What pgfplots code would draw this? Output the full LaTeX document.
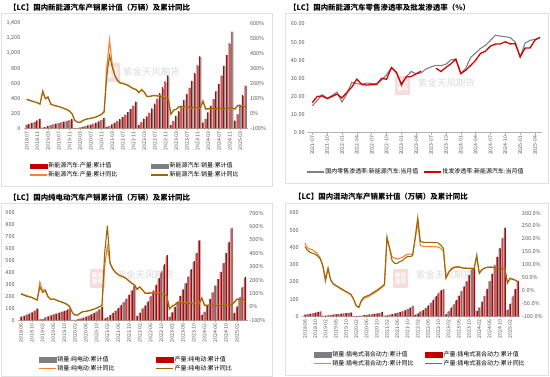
\documentclass[border=0pt]{standalone}
\usepackage{fontspec}
\setmainfont{Noto Sans CJK SC}
\usepackage{pgfplots}
\usepackage{pgfplotstable}
\pgfplotsset{compat=1.18}

\definecolor{cred}{RGB}{192,0,0}
\definecolor{cgray}{RGB}{127,127,127}
\definecolor{corange}{RGB}{245,130,50}
\definecolor{colive}{RGB}{150,105,5}
\definecolor{tlab}{RGB}{89,89,89}
\definecolor{pred}{RGB}{215,0,0}
\definecolor{pgray}{RGB}{128,128,128}
\definecolor{wm}{RGB}{218,218,218}
\definecolor{wmpink}{RGB}{242,205,205}

% Panel 1: NEV cumulative (i, prod, sales, prod yoy, sales yoy), 2018-07 .. 2025-05
\pgfplotstableread{
i p s po so
0 50 49 90 95
1 60 60 85 88
2 73 72 80 82
3 87 86 75 76
4 106 103 70 70
5 127 125.6 60 62
6 9.1 9.6 140 150
7 14.9 15.0 95 100
8 30.4 29.9 105 110
9 40.8 39.7 65 62
10 52.1 51.6 52 55
11 61.4 61.7 48 50
12 69.3 69.6 44 45
13 79.9 79.4 40 40
14 88.9 87.2 33 32
15 98.3 94.7 26 25
16 109.1 104.3 16 14
17 124.2 120.6 -2 -4
18 4.0 4.4 -45 -48
19 5.0 5.7 -60 -58
20 10.5 11.4 -62 -60
21 18.1 18.9 -50 -48
22 27.4 28.8 -42 -40
23 39.7 39.3 -37 -36
24 49.8 49.2 -34 -33
25 62.2 60.0 -30 -29
26 75.9 73.2 -25 -24
27 91.5 89.2 -17 -16
28 110.5 109.2 -8 -6
29 136.6 136.7 8 11
30 20.0 17.9 300 250
31 32.4 29.9 490 385
32 53.3 51.5 330 310
33 75.1 72.1 255 250
34 96.9 93.3 222 218
35 121.5 120.6 205 201
36 150.4 147.8 200 198
37 181.2 179.9 195 192
38 216.6 215.7 188 185
39 256.2 254.2 176 173
40 302.3 299.0 166 163
41 354.5 352.1 160 157
42 45.2 43.1 135 140
43 82.0 76.4 160 155
44 129.3 125.7 143 140
45 160.5 155.6 114 112
46 207.1 200.3 114 111
47 266.1 260.0 119 116
48 327.9 319.4 120 117
49 397.0 386.0 119 115
50 472.0 456.7 118 112
51 548.5 528.0 114 108
52 625.3 606.7 107 103
53 705.8 688.7 97 93
54 42.5 40.8 -6 -6
55 97.7 93.3 19 22
56 165.0 158.6 28 26
57 229.0 222.2 43 43
58 300.5 294.0 45 47
59 378.8 374.7 42 44
60 459.1 452.6 40 42
61 543.4 537.1 37 39
62 631.3 627.8 34 38
63 735.2 728.0 34 38
64 842.2 830.4 35 37
65 958.7 949.5 36 38
66 78.7 72.9 85 79
67 125.2 120.7 28 29
68 211.5 209.0 28 32
69 298.5 294.0 30 32
70 392.9 389.5 31 32
71 492.9 494.4 30 32
72 591.4 593.4 29 31
73 700.8 703.7 29 31
74 831.4 832.0 31 32
75 977.9 975.0 33 34
76 1134.5 1126.2 35 36
77 1288.8 1286.6 34 36
78 101.5 94.4 29 29
79 190.3 184.4 52 53
80 318.2 307.5 50 47
81 442.9 430.0 48 46
82 569.9 560.8 45 44
}\Pa

% Panel 2: penetration (i, retail gray, wholesale red), 2021-07 .. 2025-05
\pgfplotstableread{
i g r
0 14.8 16.6
1 17.8 20.0
2 21.0 20.3
3 19.1 18.8
4 20.5 20.0
5 22.4 21.3
6 16.9 19.2
7 21.5 22.3
8 27.8 25.2
9 27.0 29.6
10 26.8 26.6
11 27.4 26.3
12 27.2 26.5
13 27.0 26.6
14 29.0 30.0
15 32.0 29.5
16 35.8 36.0
17 33.5 33.2
18 25.8 26.9
19 31.0 30.8
20 33.8 31.0
21 32.5 32.5
22 33.0 34.0
23 35.2 nan
24 36.3 nan
25 37.2 35.6
26 37.0 33.8
27 37.8 36.0
28 40.2 38.0
29 40.6 40.6
30 32.8 32.6
31 35.5 34.5
32 41.5 37.1
33 44.0 40.0
34 46.5 43.8
35 48.2 45.0
36 51.0 47.8
37 53.8 48.9
38 53.3 49.0
39 53.0 50.2
40 52.5 49.0
41 50.0 49.2
42 41.8 41.8
43 49.5 46.8
44 51.0 46.8
45 51.5 51.2
46 52.5 52.6
}\Pb

% Panel 3: BEV (i, sales, prod, sales yoy, prod yoy), 2018-06 .. 2025-05
\pgfplotstableread{
i s p so po
0 30 31 100 95
1 37 38 92 88
2 46 47 85 80
3 56 57 78 74
4 66 67 72 70
5 80 81 60 60
6 98.4 98.6 52 50
7 7.5 6.9 185 150
8 12.0 11.5 120 108
9 24.0 24.7 130 120
10 32.0 32.9 80 75
11 41.0 42.2 55 55
12 49.0 49.6 58 60
13 55.0 56.2 50 52
14 62.0 64.8 42 44
15 69.0 72.2 35 38
16 75.0 80.0 28 30
17 83.0 88.6 18 20
18 97.2 102.0 -1 5
19 3.4 3.3 -40 -42
20 4.3 4.1 -62 -60
21 8.8 8.0 -60 -62
22 14.2 13.8 -45 -45
23 21.5 21.2 -36 -34
24 30.8 31.1 -35 -33
25 38.7 39.4 -30 -28
26 48.2 49.8 -25 -23
27 59.7 61.4 -18 -17
28 73.7 75.3 -10 -8
29 90.6 91.7 0 2
30 111.5 110.5 12 8
31 15.0 16.6 300 400
32 24.9 26.7 450 605
33 42.5 44.2 320 330
34 60.1 62.1 280 285
35 78.1 80.2 255 258
36 100.7 101.6 240 240
37 124.1 126.3 232 230
38 150.2 152.0 225 222
39 180.0 181.6 212 210
40 212.3 214.4 195 193
41 249.0 251.5 180 175
42 291.6 294.2 162 166
43 34.5 36.1 135 130
44 61.6 64.4 150 148
45 98.2 100.8 128 126
46 121.8 124.2 104 101
47 155.0 158.3 104 101
48 199.1 203.1 106 103
49 242.8 248.0 106 103
50 292.8 299.5 105 102
51 344.8 354.0 104 100
52 398.6 410.7 100 98
53 458.1 472.0 96 94
54 536.5 546.7 82 86
55 29.1 30.5 -12 -15
56 65.6 67.3 6 5
57 111.9 113.3 18 14
58 155.3 157.4 36 32
59 203.6 205.4 38 33
60 256.6 258.4 34 30
61 308.0 312.0 33 28
62 365.1 369.2 30 27
63 425.2 428.3 28 25
64 490.7 496.4 26 22
65 561.7 566.6 23 20
66 668.5 670.4 25 23
67 43.1 47.0 70 65
68 71.1 73.8 15 10
69 124.0 125.4 13 11
70 177.5 179.3 13 14
71 233.4 234.2 14 14
72 290.8 290.6 13 12
73 345.0 346.2 12 11
74 405.7 406.1 12 10
75 478.5 478.9 13 12
76 563.0 563.1 15 13
77 652.0 657.2 16 16
78 771.9 775.0 18 16
79 57.9 62.0 38 32
80 113.0 117.6 57 58
81 190.2 195.8 55 55
82 274.0 277.8 54 55
83 356.0 365.0 52 55
}\Pc

% Panel 4: PHEV (i, sales, prod, sales yoy, prod yoy), 2018-06 .. 2025-05
\pgfplotstableread{
i s p so po
0 9.5 10 183 170
1 11.5 12 165 155
2 14.5 15 160 148
3 17.5 18 157 144
4 20.5 21 150 140
5 24.5 25 140 133
6 27.1 28.3 125 122
7 2.3 2.2 92 95
8 3.4 3.4 35 42
9 5.6 5.7 86 86
10 7.9 7.9 40 42
11 10.1 10.0 25 27
12 12.0 11.8 18 20
13 13.3 13.1 12 14
14 14.7 14.9 5 8
15 16.3 16.6 0 2
16 17.8 18.2 -5 -4
17 19.5 20.4 -10 -10
18 23.2 22.0 -15 -17
19 0.9 0.7 -35 -35
20 1.3 0.9 -60 -58
21 2.6 2.5 -66 -66
22 4.5 4.4 -42 -38
23 6.6 6.2 -30 -26
24 8.6 8.5 -27 -22
25 10.5 10.4 -22 -18
26 12.3 12.4 -15 -12
27 14.0 14.2 -10 -5
28 16.4 16.1 -3 0
29 18.8 18.6 3 8
30 25.1 26.0 12 15
31 2.9 3.4 20 24
32 5.0 5.7 200 208
33 9.0 9.1 165 163
34 12.0 13.0 130 115
35 15.2 16.7 125 105
36 19.9 19.9 122 105
37 23.7 24.1 125 112
38 29.7 29.2 128 115
39 35.7 35.0 135 125
40 41.8 41.8 140 131
41 50.0 50.8 141 131
42 60.3 60.1 140 135
43 8.6 9.1 200 205
44 15.2 17.6 262 282
45 27.6 28.5 175 190
46 33.8 36.4 170 187
47 45.3 48.9 170 186
48 60.9 62.9 170 186
49 76.5 79.8 170 186
50 93.1 97.3 170 186
51 111.8 117.9 169 185
52 129.6 137.7 168 184
53 148.5 153.2 163 175
54 151.8 158.4 152 163
55 11.7 12.0 50 47
56 27.7 30.4 68 70
57 46.7 51.7 85 80
58 66.7 71.6 90 88
59 90.5 95.0 92 90
60 118.1 120.3 92 91
61 144.6 147.1 89 88
62 171.9 174.2 87 86
63 202.5 203.0 86 86
64 237.3 238.6 86 85
65 268.7 275.4 86 85
66 280.4 287.7 85 85
67 29.8 32.0 130 137
68 49.6 52.0 68 66
69 84.0 85.0 80 80
70 117.0 119.0 87 86
71 157.0 160.0 90 89
72 203.0 204.0 91 90
73 247.0 248.0 90 90
74 300.0 296.0 88 88
75 345.0 345.0 86 86
76 398.0 395.0 85 84
77 452.0 455.0 84 84
78 514.1 515.0 84 83
79 36.0 39.0 28 30
80 70.0 74.0 48 46
81 113.0 118.0 45 43
82 157.0 160.0 40 40
83 203.0 206.0 35 34
}\Pd

\pgfplotsset{
  every axis/.append style={
    scale only axis, anchor=south west, enlargelimits=false,
    /pgf/number format/assume math mode=true,
    tick label style={font=\fontsize{5.5}{6}\selectfont, text=tlab},
  },
  lax/.style={
    axis x line*=bottom, axis y line*=left,
    x axis line style={draw=black!30, line width=0.5pt, -},
    y axis line style={draw=none},
    ytick style={draw=none},
    xtick style={draw=black!30, line width=0.4pt},
    tick align=outside, major tick length=2bp,
    xticklabel style={rotate=90, anchor=east, font=\fontsize{5.2}{6}\selectfont, text=tlab, inner sep=1pt},
    yticklabel style={inner sep=1.5pt},
    legend columns=2, legend cell align=left,
    legend style={draw=none, fill=none, anchor=north west, font=\fontsize{6}{7}\selectfont, inner sep=0pt, row sep=0.6bp, nodes={inner sep=1pt}},
  },
  rax/.style={
    axis x line=none, axis y line*=right,
    y axis line style={draw=none}, ytick style={draw=none},
    yticklabel style={inner sep=1.5pt},
  },
  barleg/.style={legend image code/.code={\fill[#1] (0bp,-2.2bp) rectangle (17bp,2.2bp);}},
  lineleg/.style={legend image code/.code={\draw[#1, line width=1.2pt] (0bp,0bp) -- (17bp,0bp);}},
}

\newcommand{\wmark}[4]{% x y of logo lower-left, text centre x, text centre y
  \fill[wmpink, opacity=0.7, rounded corners=1bp] (#1,#2) rectangle ++(15bp,19bp);
  \node[text=white, font=\fontsize{5.5}{6}\selectfont\bfseries, align=center, inner sep=0pt] at ([shift={(7.5bp,9.5bp)}]#1,#2) {紫天\\金风};
  \node[text=wm, font=\fontsize{9.5}{10}\selectfont] at (#3,#4) {紫金天风期货};
}

\begin{document}
\begin{tikzpicture}
\path[use as bounding box] (0,0) rectangle (550bp,377bp);
% panel frames
\draw[black!12, line width=0.5pt] (1bp,190.3bp) rectangle (272.7bp,363.5bp);
\draw[black!12, line width=0.5pt] (285bp,194bp) rectangle (548bp,363.5bp);
\draw[black!12, line width=0.5pt] (1bp,0.7bp) rectangle (272.7bp,173.5bp);
\draw[black!12, line width=0.5pt] (285bp,1.5bp) rectangle (548bp,173.5bp);
% watermarks
\wmark{105bp}{295bp}{151.5bp}{305bp}
\wmark{395bp}{282bp}{446.5bp}{294bp}
\wmark{90bp}{89bp}{145bp}{102bp}
\wmark{393bp}{89bp}{444.5bp}{102bp}
% titles
\node[anchor=west, inner sep=0pt, font=\fontsize{7.5}{8}\selectfont\bfseries] at (9bp,369bp) {【LC】国内新能源汽车产销累计值（万辆）及累计同比};
\node[anchor=west, inner sep=0pt, font=\fontsize{7.5}{8}\selectfont\bfseries] at (289bp,369bp) {【LC】国内新能源汽车零售渗透率及批发渗透率（\%）};
\node[anchor=west, inner sep=0pt, font=\fontsize{7.5}{8}\selectfont\bfseries] at (9bp,179bp) {【LC】国内纯电动汽车产销累计值（万辆）及累计同比};
\node[anchor=west, inner sep=0pt, font=\fontsize{7.5}{8}\selectfont\bfseries] at (294bp,180.5bp) {【LC】国内混动汽车产销累计值（万辆）及累计同比};

% ---------------- Panel 1 ----------------
\begin{axis}[lax, at={(24bp,248.7bp)}, width=224.4bp, height=105bp,
  xmin=-1, xmax=83, ymin=0, ymax=1400, ytick={0,200,...,1400},
  xtick={0,4,...,80},
  xticklabels={2018-07,2018-11,2019-03,2019-07,2019-11,2020-03,2020-07,2020-11,2021-03,2021-07,2021-11,2022-03,2022-07,2022-11,2023-03,2023-07,2023-11,2024-03,2024-07,2024-11,2025-03},
  legend style={at={(0.022,-0.316)}, /tikz/every even column/.append style={column sep=32bp}}]
\addplot[ybar, bar width=0.42, bar shift=-0.21, fill=cred, draw=none, forget plot] table[x=i,y=p]{\Pa};
\addplot[ybar, bar width=0.42, bar shift=0.21, fill=cgray, draw=none, forget plot] table[x=i,y=s]{\Pa};
\addlegendimage{barleg=cred}\addlegendentry{新能源汽车:产量:累计值}
\addlegendimage{barleg=cgray}\addlegendentry{新能源汽车:销量:累计值}
\addlegendimage{lineleg=corange}\addlegendentry{新能源汽车:产量:累计同比}
\addlegendimage{lineleg=colive}\addlegendentry{新能源汽车:销量:累计同比}
\end{axis}
\begin{axis}[rax, at={(24bp,248.7bp)}, width=224.4bp, height=105bp,
  xmin=-1, xmax=83, ymin=-100, ymax=600, ytick={-100,0,...,600},
  yticklabel={\pgfmathprintnumber{\tick}\%}]
\addplot[corange, line width=1.1pt] table[x=i,y=po]{\Pa};
\addplot[colive, line width=1.1pt] table[x=i,y=so]{\Pa};
\end{axis}

% ---------------- Panel 2 ----------------
\begin{axis}[lax, at={(308.3bp,244.3bp)}, width=233.4bp, height=108.7bp,
  xmin=-0.8, xmax=46.35, ymin=0, ymax=60, ytick={0,10,...,60},
  yticklabel={\pgfmathprintnumber[fixed,fixed zerofill,precision=2]{\tick}},
  xtick={0,3,...,45},
  xticklabels={2021-07,2021-10,2022-01,2022-04,2022-07,2022-10,2023-01,2023-04,2023-07,2023-10,2024-01,2024-04,2024-07,2024-10,2025-01,2025-04},
  legend style={at={(-0.01,-0.32)}, /tikz/every even column/.append style={column sep=4bp}}]
\addplot[pgray, line width=1.1pt, forget plot] table[x=i,y=g]{\Pb};
\addplot[pred, line width=1.3pt, unbounded coords=jump, forget plot] table[x=i,y=r]{\Pb};
\addlegendimage{lineleg=pgray}\addlegendentry{国内零售渗透率:新能源汽车:当月值}
\addlegendimage{lineleg=pred}\addlegendentry{批发渗透率:新能源汽车:当月值}
\end{axis}

% ---------------- Panel 3 ----------------
\begin{axis}[lax, at={(18.3bp,56.7bp)}, width=229.4bp, height=107.3bp,
  xmin=-1, xmax=84, ymin=0, ymax=900, ytick={0,100,...,900},
  xtick={0,4,...,80},
  xticklabels={2018-06,2018-10,2019-02,2019-06,2019-10,2020-02,2020-06,2020-10,2021-02,2021-06,2021-10,2022-02,2022-06,2022-10,2023-02,2023-06,2023-10,2024-02,2024-06,2024-10,2025-02},
  legend style={at={(0.086,-0.325)}, /tikz/every even column/.append style={column sep=40bp}}]
\addplot[ybar, bar width=0.42, bar shift=-0.21, fill=cgray, draw=none, forget plot] table[x=i,y=s]{\Pc};
\addplot[ybar, bar width=0.42, bar shift=0.21, fill=cred, draw=none, forget plot] table[x=i,y=p]{\Pc};
\addlegendimage{barleg=cgray}\addlegendentry{销量:纯电动:累计值}
\addlegendimage{barleg=cred}\addlegendentry{产量:纯电动:累计值}
\addlegendimage{lineleg=corange}\addlegendentry{销量:纯电动:累计同比}
\addlegendimage{lineleg=colive}\addlegendentry{产量:纯电动:累计同比}
\end{axis}
\begin{axis}[rax, at={(18.3bp,56.7bp)}, width=229.4bp, height=107.3bp,
  xmin=-1, xmax=84, ymin=-100, ymax=700, ytick={-100,0,...,700},
  yticklabel={\pgfmathprintnumber{\tick}\%}]
\addplot[corange, line width=1.1pt] table[x=i,y=so]{\Pc};
\addplot[colive, line width=1.1pt] table[x=i,y=po]{\Pc};
\end{axis}

% ---------------- Panel 4 ----------------
\begin{axis}[lax, at={(302.4bp,60.7bp)}, width=217.9bp, height=103.3bp,
  xmin=-1, xmax=84, ymin=0, ymax=600, ytick={0,100,...,600},
  xtick={0,4,...,80},
  xticklabels={2018-06,2018-10,2019-02,2019-06,2019-10,2020-02,2020-06,2020-10,2021-02,2021-06,2021-10,2022-02,2022-06,2022-10,2023-02,2023-06,2023-10,2024-02,2024-06,2024-10,2025-02},
  legend style={at={(0.049,-0.328)}, /tikz/every even column/.append style={column sep=10bp}}]
\addplot[ybar, bar width=0.42, bar shift=-0.21, fill=cgray, draw=none, forget plot] table[x=i,y=s]{\Pd};
\addplot[ybar, bar width=0.42, bar shift=0.21, fill=cred, draw=none, forget plot] table[x=i,y=p]{\Pd};
\addlegendimage{barleg=cgray}\addlegendentry{销量:插电式混合动力:累计值}
\addlegendimage{barleg=cred}\addlegendentry{产量:插电式混合动力:累计值}
\addlegendimage{lineleg=corange}\addlegendentry{销量:插电式混合动力:累计同比}
\addlegendimage{lineleg=colive}\addlegendentry{产量:插电式混合动力:累计同比}
\end{axis}
\begin{axis}[rax, at={(302.4bp,60.7bp)}, width=217.9bp, height=103.3bp,
  xmin=-1, xmax=84, ymin=-100, ymax=300, ytick={-100,-50,...,300},
  yticklabel={\pgfmathprintnumber[fixed,fixed zerofill,precision=1]{\tick}\%}]
\addplot[corange, line width=1.1pt] table[x=i,y=so]{\Pd};
\addplot[colive, line width=1.1pt] table[x=i,y=po]{\Pd};
\end{axis}
\end{tikzpicture}
\end{document}
